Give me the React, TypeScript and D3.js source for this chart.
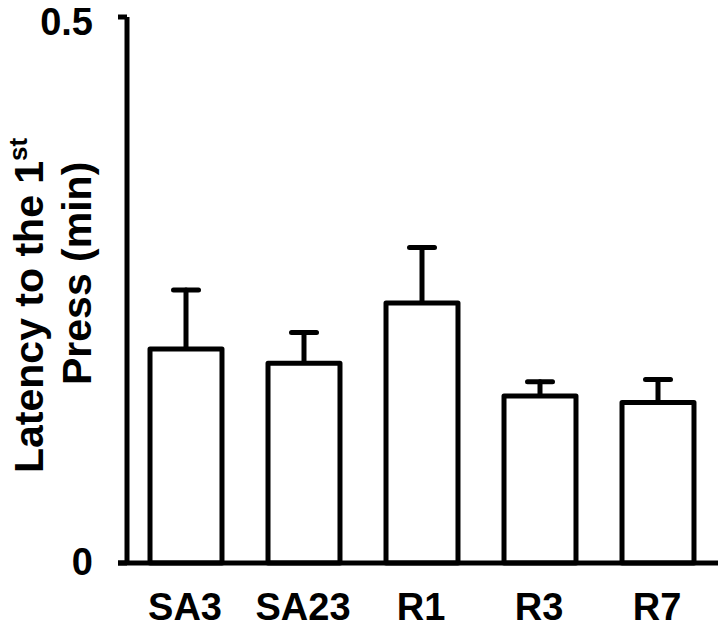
import { scaleBand, scaleLinear } from 'd3';

// values
const categories = ['SA3', 'SA23', 'R1', 'R3', 'R7'];
const means = [0.196, 0.183, 0.238, 0.153, 0.147];
const errors = [0.054, 0.028, 0.051, 0.013, 0.021];
const yTicks = [0, 0.5];

const WIDTH = 720;
const HEIGHT = 629;
const FONT = '"Liberation Sans", Arial, sans-serif';

export default function App() {
  const x = scaleBand<string>()
    .domain(categories)
    .range([127, 717])
    .paddingInner(0.39)
    .paddingOuter(0.195);

  const y = scaleLinear().domain([0, 0.5]).range([563, 17]);

  const capW = 25;

  return (
    <div>
      <style>{`body{margin:0}`}</style>
      <svg width={WIDTH} height={HEIGHT} style={{ display: 'block', background: '#fff' }}>
        {/* bars + error bars */}
        <g stroke="#000" strokeWidth={5} strokeLinejoin="round" strokeLinecap="round">
          {categories.map((c, i) => {
            const x0 = x(c)!;
            const cx = x0 + x.bandwidth() / 2;
            const top = y(means[i]);
            const errTop = y(means[i] + errors[i]);
            return (
              <g key={c}>
                <line x1={cx} x2={cx} y1={top} y2={errTop} />
                <line x1={cx - capW / 2} x2={cx + capW / 2} y1={errTop} y2={errTop} />
                <rect x={x0} y={top} width={x.bandwidth()} height={y(0) - top} fill="#fff" />
              </g>
            );
          })}
        </g>

        {/* axes */}
        <g stroke="#000" strokeWidth={5}>
          <line x1={127} x2={127} y1={y(0.5)} y2={y(0)} />
          <line x1={118} x2={718} y1={y(0)} y2={y(0)} />
          {yTicks.map((t) => (
            <line key={t} x1={118} x2={127} y1={y(t)} y2={y(t)} />
          ))}
        </g>

        {/* tick labels */}
        <g fontFamily={FONT} fontWeight="bold" fontSize={38} fill="#000">
          {yTicks.map((t) => (
            <text key={t} x={93} y={Math.max(y(t) + 12, 35)} textAnchor="end">
              {t === 0 ? '0' : String(t)}
            </text>
          ))}
          {categories.map((c) => (
            <text key={c} x={x(c)! + x.bandwidth() / 2 - 1} y={620} textAnchor="middle">
              {c}
            </text>
          ))}
        </g>

        {/* y axis title, two lines */}
        <g fontFamily={FONT} fontWeight="bold" fontSize={41} fill="#000">
          <text transform="translate(43,473) rotate(-90)" textAnchor="start">
            Latency to the 1
            <tspan fontSize={26} dy={-16}>st</tspan>
          </text>
          <text transform="translate(91,385) rotate(-90)" textAnchor="start">
            Press (min)
          </text>
        </g>
      </svg>
    </div>
  );
}
